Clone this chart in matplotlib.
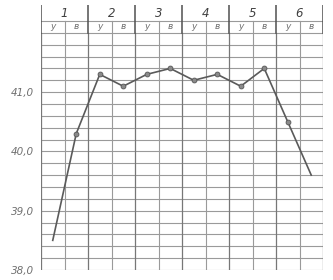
import numpy as np
from matplotlib import pyplot as plt

days = ['1', '2', '3', '4', '5', '6']
halves = ['у', 'в']
temps = [38.5, 40.3, 41.3, 41.1, 41.3, 41.4, 41.2, 41.3, 41.1, 41.4, 40.5, 39.6]
ytick_vals = [38.0, 39.0, 40.0, 41.0]
ytick_labels = ['38,0', '39,0', '40,0', '41,0']

fig = plt.figure(figsize=(3.33, 2.8), dpi=100)
ax = fig.add_axes([41 / 333, 10 / 280, 282 / 333, 265 / 280])
ax.set_xlim(0, 12)
ax.set_ylim(38.0, 42.47)
for s in ax.spines.values():
    s.set_visible(False)

grid_c = '#9a9a9a'
mid_c = '#777777'
dark_c = '#505050'

# horizontal grid in the temperature field
for v in np.arange(38.0, 42.01, 0.2):
    ax.plot([0, 12], [v, v], color=grid_c, lw=0.8, zorder=1)
# header rows
ax.plot([0, 12], [42.2, 42.2], color=grid_c, lw=0.8, zorder=1)

# vertical lines
for i in range(13):
    if i % 2 == 0:
        ax.plot([i, i], [38.0, 42.0], color=mid_c, lw=0.9, zorder=1)
        ax.plot([i, i], [42.0, 42.47], color=dark_c, lw=1.1, zorder=1)
    else:
        ax.plot([i, i], [38.0, 42.2], color=grid_c, lw=0.8, zorder=1)

# header text
for d, name in enumerate(days):
    ax.text(2 * d + 1, 42.33, name, ha='center', va='center', fontsize=8.5,
            style='italic', color='#404040')
    for h, hn in enumerate(halves):
        ax.text(2 * d + h + 0.5, 42.1, hn, ha='center', va='center', fontsize=6.5,
                style='italic', color='#707070')

x = np.arange(len(temps)) + 0.5
ax.plot(x, temps, color='#5a5a5a', lw=1.2, zorder=3,
        marker='o', ms=3.5, mfc='#8a8a8a', mec='#555555', mew=0.6,
        markevery=slice(1, len(temps) - 1))

ax.set_yticks(ytick_vals)
ax.set_yticklabels(ytick_labels, fontsize=7.5, style='italic', color='#707070')
ax.set_xticks([])
ax.tick_params(axis='y', length=0, pad=5)

fig.savefig('out.png', dpi=100, facecolor='white')
